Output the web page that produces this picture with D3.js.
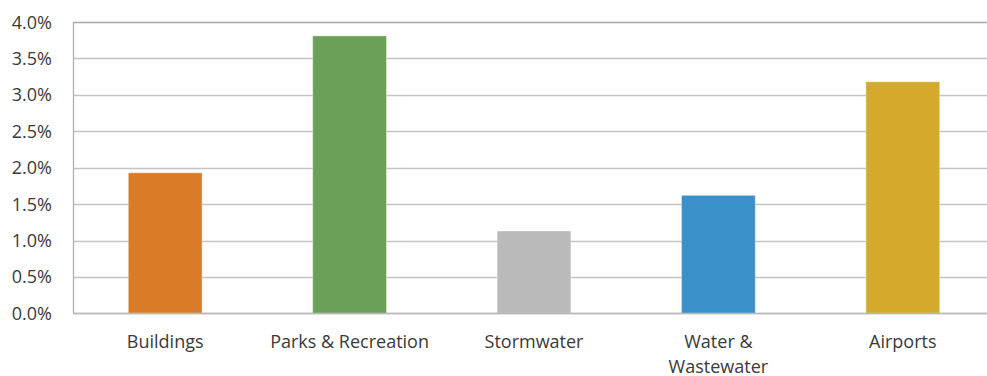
<!DOCTYPE html>
<html>
<head>
<meta charset="utf-8">
<script src="https://cdn.jsdelivr.net/npm/d3@7"></script>
<style>
  html, body { margin: 0; padding: 0; background: #fff; }
  svg { display: block; }
  text { font-family: "Open Sans", "Lato", sans-serif; fill: #3a3a3a; }
</style>
</head>
<body>
<svg id="chart" width="987" height="376"></svg>
<script>
const categories = ["Buildings", "Parks & Recreation", "Stormwater", "Water & Wastewater", "Airports"];
const categoryLabelLines = [["Buildings"], ["Parks & Recreation"], ["Stormwater"], ["Water &", "Wastewater"], ["Airports"]];
const values = [0.0193, 0.0381, 0.0113, 0.0162, 0.0318];
const barColors = ["#DA7B28", "#6C9F57", "#BABABA", "#3A90C9", "#D3AA2C"];
const yTicks = [0, 0.005, 0.01, 0.015, 0.02, 0.025, 0.03, 0.035, 0.04];

const svg = d3.select("#chart");
const plotLeft = 73, plotRight = 995, plotTop = 22.1, plotBottom = 313.3;

const x = d3.scaleBand().domain(categories).range([plotLeft, plotRight]).paddingInner(0.6).paddingOuter(0.3);
const y = d3.scaleLinear().domain([0, 0.04]).range([plotBottom, plotTop]);
const fmt = d3.format(".1%");

// gridlines
svg.append("g").selectAll("line").data(yTicks).join("line")
  .attr("x1", plotLeft).attr("x2", 987)
  .attr("y1", d => Math.round(y(d)) + 0.5).attr("y2", d => Math.round(y(d)) + 0.5)
  .attr("stroke", d => d === 0.04 ? "#a8a8a8" : "#c4c4c4").attr("stroke-width", 1.3);

// left border
svg.append("line").attr("x1", plotLeft + 0.5).attr("x2", plotLeft + 0.5)
  .attr("y1", y(0.04)).attr("y2", y(0))
  .attr("stroke", "#b0b0b0").attr("stroke-width", 1.3);

// bars
svg.append("g").selectAll("rect").data(values).join("rect")
  .attr("x", (d, i) => x(categories[i]))
  .attr("width", x.bandwidth())
  .attr("y", d => y(d))
  .attr("height", d => y(0) - y(d))
  .attr("fill", (d, i) => barColors[i])
  .attr("stroke", "rgba(255,255,255,0.35)").attr("stroke-width", 1);

// baseline over bars
svg.append("line").attr("x1", plotLeft).attr("x2", 987)
  .attr("y1", Math.round(y(0)) + 0.5).attr("y2", Math.round(y(0)) + 0.5)
  .attr("stroke", "#b8b8b8").attr("stroke-width", 1.3);

// y tick labels
svg.append("g").selectAll("text").data(yTicks).join("text")
  .attr("x", 52).attr("y", d => y(d))
  .attr("dy", "0.36em")
  .attr("text-anchor", "end")
  .attr("font-size", 18)
  .text(d => fmt(d));

// x labels
const xl = svg.append("g").selectAll("text").data(categories).join("text")
  .attr("x", d => x(d) + x.bandwidth() / 2)
  .attr("y", 347.5)
  .attr("text-anchor", "middle")
  .attr("font-size", 18);
xl.each(function(d, i) {
  const t = d3.select(this);
  categoryLabelLines[i].forEach((line, j) => {
    t.append("tspan").attr("x", x(d) + x.bandwidth() / 2).attr("dy", j === 0 ? 0 : 25).text(line);
  });
});
</script>
</body>
</html>
